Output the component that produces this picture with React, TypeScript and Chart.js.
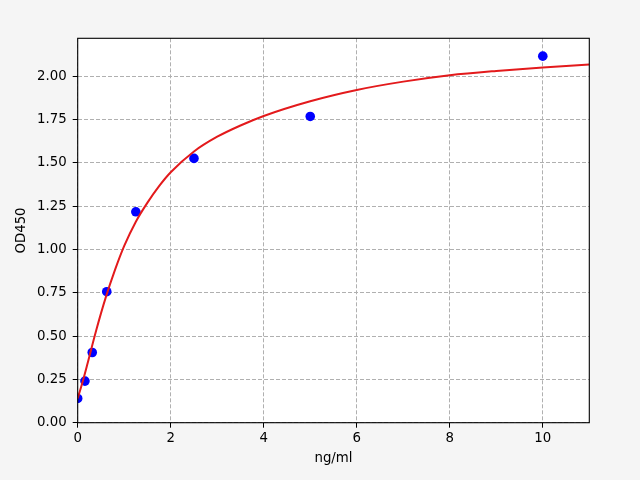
import React, { useEffect, useRef } from 'react';
import { Chart, ChartConfiguration, registerables } from 'chart.js';

Chart.register(...registerables);

// standard points (concentration vs OD)
const stdConc = [0, 0.156, 0.3125, 0.625, 1.25, 2.5, 5, 10];
const stdOD = [0.14, 0.24, 0.405, 0.756, 1.217, 1.525, 1.767, 2.115];

// fitted curve
const fitConc = [0, 0.1, 0.2, 0.4, 0.6, 0.8, 1, 1.25, 1.5, 1.75, 2, 2.5, 3, 3.5, 4, 5, 6, 7, 8, 9, 10, 11];
const fitOD = [0.14, 0.23, 0.33, 0.535, 0.72, 0.88, 1.02, 1.16, 1.27, 1.365, 1.445, 1.565, 1.65, 1.715, 1.77, 1.855, 1.92, 1.968, 2.005, 2.03, 2.05, 2.067];

const xTicks = [0, 2, 4, 6, 8, 10];
const yTicks = [0, 0.25, 0.5, 0.75, 1, 1.25, 1.5, 1.75, 2];

const font = { family: 'DejaVu Sans', size: 13.33 };

const panelPlugin = {
  id: 'panel',
  beforeDraw: (chart: Chart) => {
    const { ctx, chartArea: a } = chart;
    ctx.save();
    ctx.fillStyle = '#f5f5f5';
    ctx.fillRect(0, 0, chart.width, chart.height);
    ctx.fillStyle = '#ffffff';
    ctx.fillRect(a.left, a.top, a.right - a.left, a.bottom - a.top);
    ctx.restore();
  },
  afterDraw: (chart: Chart) => {
    const { ctx, chartArea: a } = chart;
    ctx.save();
    ctx.strokeStyle = '#000000';
    ctx.lineWidth = 1.1;
    ctx.strokeRect(a.left, a.top, a.right - a.left, a.bottom - a.top);
    ctx.restore();
  },
};

const gridOpts = {
  color: '#b0b0b0',
  lineWidth: 1,
  tickColor: '#000000',
  tickLength: 5,
  tickWidth: 1,
};

export default function App() {
  const canvasRef = useRef<HTMLCanvasElement | null>(null);
  const chartRef = useRef<Chart | null>(null);

  useEffect(() => {
    document.body.style.margin = '0';
    if (!canvasRef.current) return;

    const config: ChartConfiguration = {
      type: 'scatter',
      data: {
        datasets: [
          {
            type: 'line',
            data: fitConc.map((x, i) => ({ x, y: fitOD[i] })),
            borderColor: '#e31a1c',
            borderWidth: 2,
            pointRadius: 0,
            cubicInterpolationMode: 'monotone',
            fill: false,
            order: 0,
          },
          {
            type: 'scatter',
            data: stdConc.map((x, i) => ({ x, y: stdOD[i] })),
            backgroundColor: '#0000ff',
            borderColor: '#0000ff',
            borderWidth: 0,
            pointRadius: 4.8,
            order: 1,
          },
        ],
      },
      options: {
        animation: false,
        responsive: true,
        maintainAspectRatio: false,
        layout: { padding: { left: 0, top: 38.3, right: 50.7, bottom: 0 } },
        plugins: {
          legend: { display: false },
          tooltip: { enabled: false },
        },
        scales: {
          x: {
            type: 'linear',
            min: 0,
            max: 11,
            afterBuildTicks: (scale: any) => {
              scale.ticks = xTicks.map((value) => ({ value }));
            },
            afterFit: (scale: any) => {
              scale.height = 57.3;
            },
            grid: gridOpts,
            border: { display: false, dash: [4, 2] },
            ticks: {
              color: '#000000',
              font,
              padding: 3,
              maxRotation: 0,
              callback: (v: any) => String(v),
            },
            title: {
              display: true,
              text: 'ng/ml',
              color: '#000000',
              font,
              padding: { top: 0, bottom: 13 },
            },
          },
          y: {
            type: 'linear',
            min: 0,
            max: 2.218,
            afterBuildTicks: (scale: any) => {
              scale.ticks = yTicks.map((value) => ({ value }));
            },
            afterFit: (scale: any) => {
              scale.width = 77.7;
            },
            grid: gridOpts,
            border: { display: false, dash: [4, 2] },
            ticks: {
              color: '#000000',
              font,
              padding: 6,
              callback: (v: any) => Number(v).toFixed(2),
            },
            title: {
              display: true,
              text: 'OD450',
              color: '#000000',
              font,
              padding: { top: 14, bottom: 0 },
            },
          },
        },
      },
      plugins: [panelPlugin],
    };

    chartRef.current = new Chart(canvasRef.current, config);
    return () => {
      chartRef.current?.destroy();
    };
  }, []);

  return (
    <div style={{ width: 640, height: 480, position: 'relative', background: '#f5f5f5' }}>
      <canvas ref={canvasRef} />
    </div>
  );
}
